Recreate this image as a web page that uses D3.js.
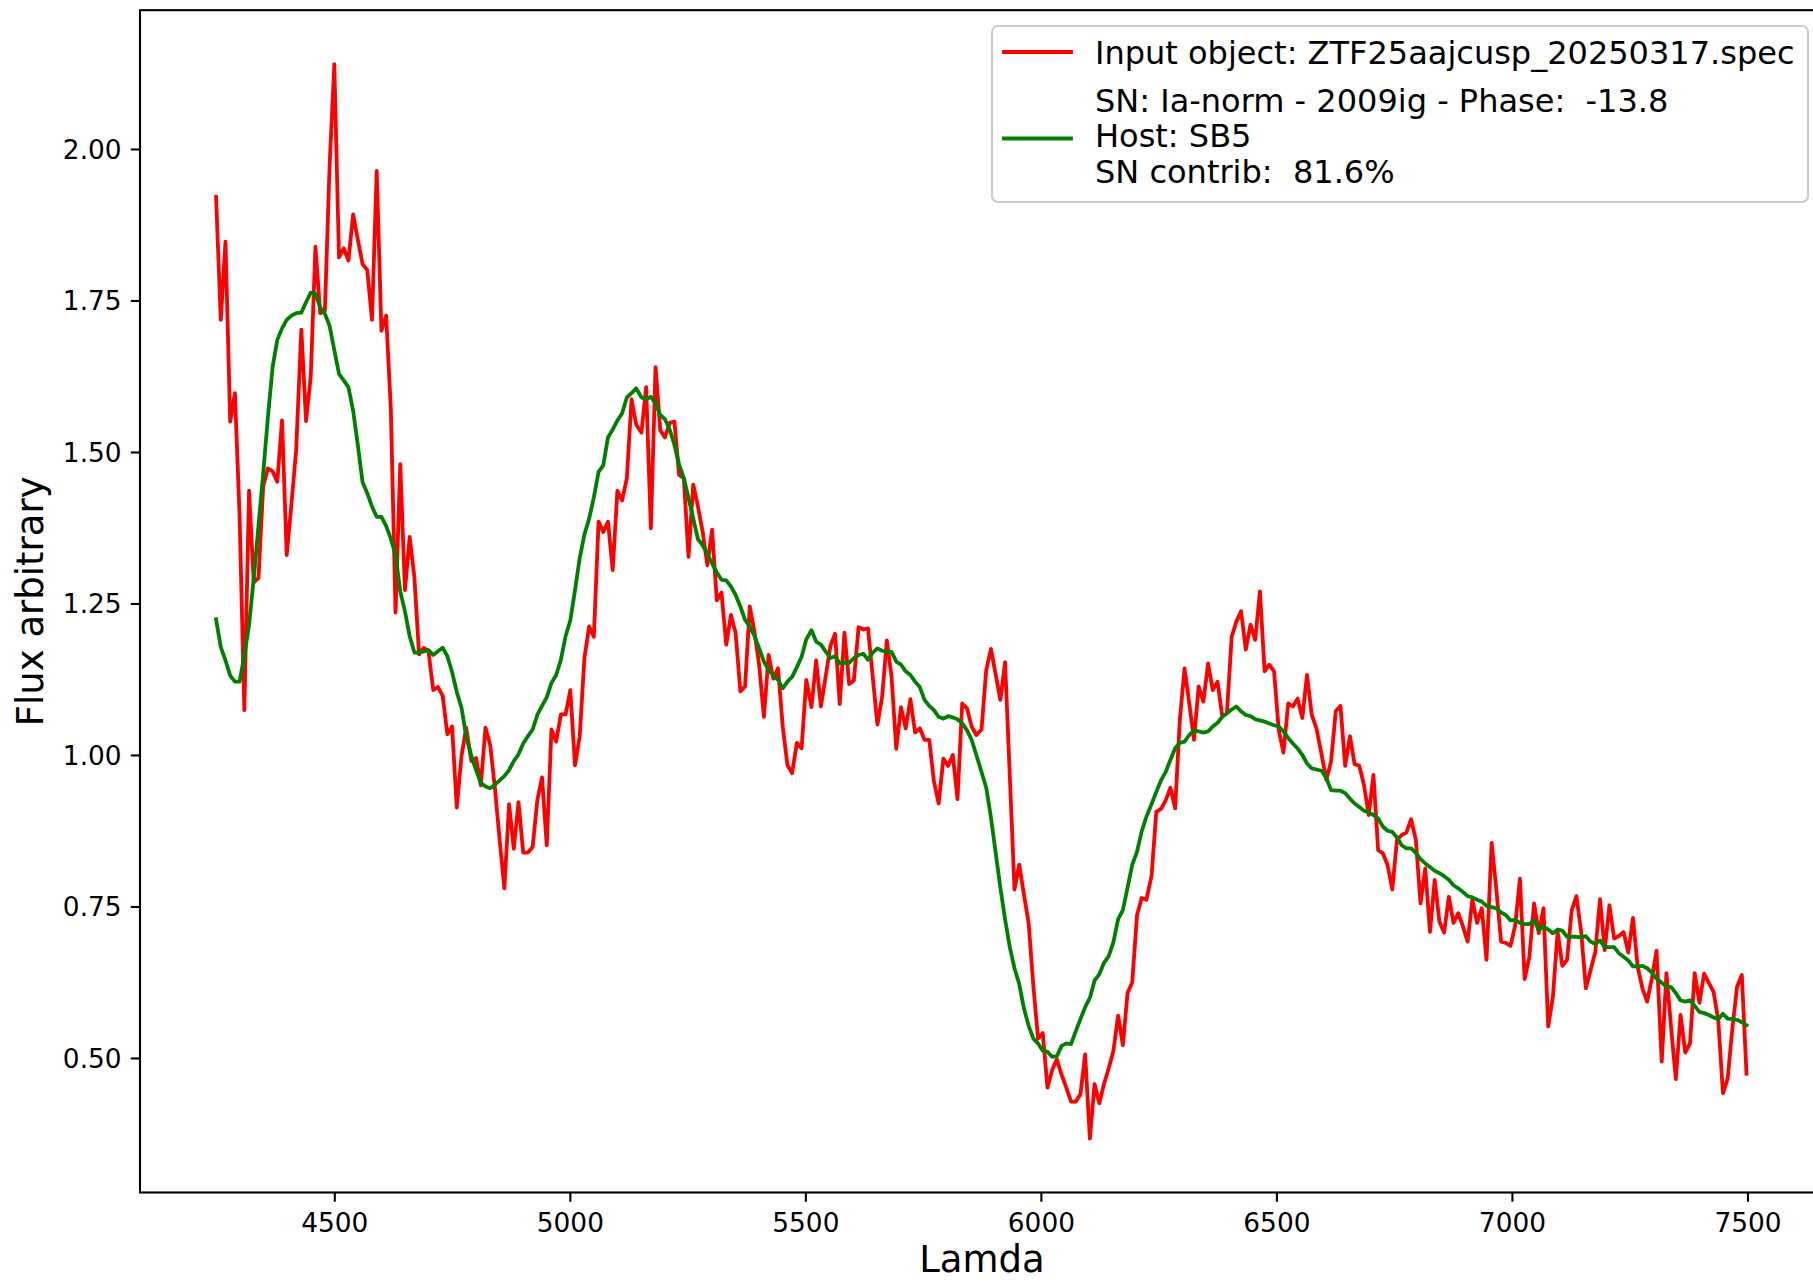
<!DOCTYPE html>
<html>
<head>
<meta charset="utf-8">
<script src="https://cdn.jsdelivr.net/npm/d3@7"></script>
<style>
  html, body { margin: 0; padding: 0; background: #ffffff; }
  svg { display: block; }
  text { font-family: "DejaVu Sans", sans-serif; fill: #000; }
</style>
</head>
<body>
<svg id="chart" width="1813" height="1282"></svg>
<script>
// ---------------- data ----------------
const wavelength = [
  4249,4259,4269,4279,4289,4299,4309,4319,4329,4339,4349,4359,4369,4379,4389,4399,4409,4419,
  4430,4440,4450,4460,4470,4480,4490,4500,4510,4520,4530,4540,4550,4560,4570,4580,4590,4600,4610,4620,4630,4640,4650,4660,4670,4680,4690,4700,4710,4720,4730,4740,4750,4760,4770,4780,
  4791,4801,4811,4821,4831,4841,4851,4861,4871,4881,4891,4901,4911,4921,4931,4941,4951,4961,4971,4981,4991,5001,5011,5021,5031,5041,5051,5061,5071,5081,5091,5101,5111,5121,5131,5141,
  5152,5162,5172,5182,5192,5202,5212,5222,5232,5242,5252,5262,5272,5282,5292,5302,5312,5322,5332,5342,5352,5362,5372,5382,5392,5402,5412,5422,5432,5442,5452,5462,5472,5482,5492,5502,
  5513,5523,5533,5543,5553,5563,5573,5583,5593,5603,5613,5623,5633,5643,5653,5663,5673,5683,5693,5703,5713,5723,5733,5743,5753,5763,5773,5783,5793,5803,5813,5823,5833,5843,5853,5863,
  5874,5884,5894,5904,5914,5924,5934,5944,5954,5964,5974,5984,5994,6004,6014,6024,6034,6044,6054,6064,6074,6084,6094,6104,6114,6124,6134,6144,6154,6164,6174,6184,6194,6204,6214,6224,
  6235,6245,6255,6265,6275,6285,6295,6305,6315,6325,6335,6345,6355,6365,6375,6385,6395,6405,6415,6425,6435,6445,6455,6465,6475,6485,6495,6505,6515,6525,6535,6545,6555,6565,6575,6585,
  6596,6606,6616,6626,6636,6646,6656,6666,6676,6686,6696,6706,6716,6726,6736,6746,6756,6766,6776,6786,6796,6806,6816,6826,6836,6846,6856,6866,6876,6886,6896,6906,6916,6926,6936,6946,
  6957,6967,6977,6987,6997,7007,7017,7027,7037,7047,7057,7067,7077,7087,7097,7107,7117,7127,7137,7147,7157,7167,7177,7187,7197,7207,7217,7227,7237,7247,7257,7267,7277,7287,7297,7307,
  7318,7328,7338,7348,7358,7368,7378,7388,7398,7408,7418,7428,7438,7448,7458,7468,7478,7488,7498
];

const fluxInput = [
  1.921,1.718,1.847,1.55,1.597,1.393,1.074,1.436,1.285,1.292,
  1.443,1.473,1.468,1.451,1.552,1.33,1.414,1.503,1.702,1.551,
  1.625,1.839,1.729,1.733,1.972,2.14,1.821,1.836,1.816,1.892,
  1.85,1.81,1.80,1.718,1.964,1.70,1.725,1.572,1.235,1.48,
  1.272,1.36,1.293,1.166,1.177,1.171,1.107,1.112,1.098,1.034,
  1.047,0.913,0.998,1.045,0.99,0.995,0.95,1.045,1.016,0.945,
  0.86,0.78,0.919,0.845,0.922,0.839,0.839,0.848,0.925,0.963,
  0.851,1.042,1.022,1.067,1.067,1.107,0.983,1.031,1.16,1.212,
  1.195,1.385,1.368,1.385,1.305,1.436,1.42,1.456,1.587,1.545,
  1.532,1.607,1.374,1.64,1.536,1.524,1.548,1.55,1.462,1.457,
  1.327,1.446,1.41,1.368,1.313,1.372,1.255,1.268,1.182,1.231,
  1.201,1.105,1.113,1.245,1.203,1.148,1.063,1.165,1.126,1.143,
  1.047,0.983,0.97,1.02,1.011,1.124,1.079,1.156,1.08,1.129,
  1.179,1.2,1.084,1.202,1.117,1.123,1.211,1.207,1.209,1.129,
  1.05,1.096,1.189,1.129,1.01,1.079,1.044,1.092,1.037,1.044,
  1.025,1.025,0.956,0.92,0.994,0.982,1.0,0.927,1.085,1.077,
  1.047,1.033,1.042,1.14,1.175,1.133,1.091,1.153,0.966,0.778,
  0.819,0.77,0.723,0.619,0.532,0.541,0.451,0.48,0.498,0.472,
  0.451,0.428,0.428,0.44,0.506,0.367,0.457,0.425,0.457,0.483,
  0.512,0.57,0.521,0.607,0.625,0.735,0.764,0.761,0.801,0.906,
  0.911,0.925,0.946,0.912,1.058,1.143,1.085,1.025,1.113,1.088,
  1.151,1.107,1.121,1.064,1.069,1.195,1.22,1.237,1.174,1.215,
  1.19,1.27,1.138,1.149,1.138,1.041,1.004,1.085,1.08,1.093,
  1.061,1.132,1.066,1.044,1.0,0.959,0.989,1.072,1.081,0.982,
  1.031,0.985,0.982,0.95,0.901,0.967,0.843,0.838,0.818,0.778,
  0.86,0.868,0.872,0.894,0.86,0.755,0.813,0.708,0.794,0.725,
  0.707,0.766,0.723,0.739,0.717,0.692,0.761,0.723,0.747,0.662,
  0.855,0.777,0.692,0.69,0.685,0.719,0.796,0.63,0.667,0.755,
  0.706,0.747,0.552,0.601,0.708,0.652,0.662,0.744,0.767,0.708,
  0.615,0.645,0.675,0.762,0.678,0.752,0.697,0.701,0.708,0.674,
  0.731,0.65,0.615,0.593,0.631,0.677,0.494,0.64,0.549,0.465,
  0.571,0.509,0.524,0.64,0.591,0.639,0.624,0.609,0.563,0.442,
  0.466,0.549,0.618,0.637,0.474
];

const fluxTemplate = [
  1.224,1.178,1.156,1.131,1.121,1.121,1.164,1.214,1.292,1.378,
  1.464,1.557,1.64,1.685,1.704,1.718,1.725,1.729,1.73,1.747,
  1.763,1.761,1.738,1.728,1.708,1.668,1.629,1.618,1.607,1.568,
  1.511,1.45,1.432,1.41,1.393,1.393,1.378,1.357,1.33,1.27,
  1.237,1.196,1.169,1.169,1.171,1.173,1.165,1.171,1.177,1.163,
  1.137,1.104,1.078,1.031,0.998,0.975,0.954,0.948,0.945,0.951,
  0.958,0.965,0.975,0.99,1.001,1.019,1.031,1.042,1.066,1.081,
  1.095,1.119,1.132,1.157,1.196,1.222,1.272,1.325,1.364,1.39,
  1.425,1.467,1.478,1.524,1.537,1.552,1.564,1.59,1.597,1.605,
  1.59,1.587,1.591,1.58,1.561,1.554,1.537,1.512,1.479,1.457,
  1.424,1.39,1.356,1.346,1.332,1.316,1.301,1.289,1.288,1.278,
  1.264,1.245,1.223,1.212,1.196,1.176,1.154,1.14,1.132,1.124,
  1.11,1.121,1.129,1.145,1.162,1.191,1.206,1.187,1.182,1.171,
  1.16,1.163,1.151,1.152,1.152,1.16,1.165,1.167,1.157,1.169,
  1.176,1.172,1.17,1.17,1.154,1.149,1.138,1.132,1.121,1.112,
  1.091,1.081,1.074,1.063,1.06,1.064,1.062,1.059,1.052,1.041,
  1.025,1.0,0.972,0.946,0.897,0.839,0.781,0.729,0.683,0.648,
  0.622,0.582,0.553,0.532,0.524,0.512,0.51,0.502,0.503,0.52,
  0.524,0.523,0.544,0.564,0.584,0.599,0.628,0.638,0.657,0.668,
  0.691,0.729,0.744,0.781,0.819,0.84,0.874,0.898,0.919,0.939,
  0.958,0.972,0.992,1.011,1.02,1.022,1.033,1.04,1.039,1.037,
  1.039,1.047,1.053,1.063,1.069,1.075,1.08,1.072,1.066,1.064,
  1.059,1.057,1.055,1.052,1.049,1.047,1.039,1.028,1.019,1.011,
  1.0,0.986,0.978,0.976,0.974,0.962,0.942,0.941,0.941,0.937,
  0.928,0.92,0.914,0.908,0.905,0.901,0.895,0.882,0.875,0.873,
  0.864,0.851,0.846,0.846,0.838,0.828,0.821,0.815,0.809,0.805,
  0.8,0.794,0.785,0.78,0.774,0.767,0.765,0.761,0.758,0.751,
  0.749,0.747,0.74,0.736,0.727,0.728,0.723,0.721,0.721,0.727,
  0.711,0.717,0.712,0.706,0.712,0.71,0.7,0.7,0.7,0.699,
  0.701,0.692,0.688,0.694,0.683,0.683,0.683,0.673,0.667,0.661,
  0.651,0.651,0.652,0.648,0.641,0.631,0.624,0.618,0.617,0.607,
  0.595,0.593,0.595,0.586,0.576,0.574,0.571,0.567,0.564,0.573,
  0.565,0.564,0.563,0.559,0.554
];

const xTickValues = [4500, 5000, 5500, 6000, 6500, 7000, 7500];
const yTickValues = [0.50, 0.75, 1.00, 1.25, 1.50, 1.75, 2.00];
const xDomain = [4087.5, 7662.5];
const yDomain = [0.278, 2.229];

const xLabel = "Lamda";
const yLabel = "Flux arbitrary";
const inputLabel = ["Input object: ZTF25aajcusp_20250317.spec"];
const templateLabel = ["SN: Ia-norm - 2009ig - Phase:  -13.8", "Host: SB5", "SN contrib:  81.6%"];

// ---------------- layout ----------------
const plot = { left: 140, top: 10.2, right: 1824, bottom: 1192.5 };
const tickFont = 26.4, labelFont = 37, legendFont = 32;
const spineW = 2.1, tickLen = 9.2, tickPad = 9.2, lineW = 3.8;

const svg = d3.select("#chart");

const x = d3.scaleLinear().domain(xDomain).range([plot.left, plot.right]);
const y = d3.scaleLinear().domain(yDomain).range([plot.bottom, plot.top]);

svg.append("defs").append("clipPath").attr("id", "clip")
  .append("rect")
  .attr("x", plot.left).attr("y", plot.top)
  .attr("width", plot.right - plot.left).attr("height", plot.bottom - plot.top);

// data lines
const inputPts = wavelength.map((w, i) => [w, fluxInput[i]]);
const templatePts = wavelength.map((w, i) => [w, fluxTemplate[i]]);
const line = d3.line().x(d => x(d[0])).y(d => y(d[1]));

const g = svg.append("g").attr("clip-path", "url(#clip)");
g.append("path").datum(inputPts)
  .attr("d", line).attr("fill", "none")
  .attr("stroke", "#ff0000").attr("stroke-width", lineW)
  .attr("stroke-linejoin", "round").attr("stroke-linecap", "square");
g.append("path").datum(templatePts)
  .attr("d", line).attr("fill", "none")
  .attr("stroke", "#008000").attr("stroke-width", lineW)
  .attr("stroke-linejoin", "round").attr("stroke-linecap", "square");

// axes
const xAxis = d3.axisBottom(x).tickValues(xTickValues).tickFormat(d3.format("d"))
  .tickSize(tickLen).tickPadding(tickPad).tickSizeOuter(0);
const yAxis = d3.axisLeft(y).tickValues(yTickValues).tickFormat(d3.format(".2f"))
  .tickSize(tickLen).tickPadding(tickPad).tickSizeOuter(0);

const gx = svg.append("g").attr("transform", `translate(0,${plot.bottom})`).call(xAxis);
const gy = svg.append("g").attr("transform", `translate(${plot.left},0)`).call(yAxis);
[gx, gy].forEach(a => {
  a.select(".domain").remove();
  a.selectAll(".tick line").attr("stroke", "#000").attr("stroke-width", spineW);
  a.selectAll(".tick text").attr("font-family", "DejaVu Sans").attr("font-size", tickFont).attr("fill", "#000");
});
gx.selectAll(".tick text").attr("dy", null).attr("y", 1232 - plot.bottom);
gy.selectAll(".tick text").attr("dy", "0.36em");

// frame
svg.append("rect")
  .attr("x", plot.left).attr("y", plot.top)
  .attr("width", plot.right - plot.left).attr("height", plot.bottom - plot.top)
  .attr("fill", "none").attr("stroke", "#000").attr("stroke-width", spineW)
  .attr("stroke-linejoin", "miter");

// axis labels
svg.append("text").attr("x", (plot.left + plot.right) / 2).attr("y", 1272)
  .attr("text-anchor", "middle").attr("font-size", labelFont).text(xLabel);
svg.append("text")
  .attr("transform", `translate(43,${(plot.top + plot.bottom) / 2}) rotate(-90)`)
  .attr("text-anchor", "middle").attr("font-size", labelFont).text(yLabel);

// legend
const leg = svg.append("g");
leg.append("rect").attr("x", 992).attr("y", 26).attr("width", 816).attr("height", 176)
  .attr("rx", 6).attr("ry", 6)
  .attr("fill", "#ffffff").attr("fill-opacity", 0.8)
  .attr("stroke", "#cccccc").attr("stroke-width", spineW);

const legendEntries = [
  { color: "#ff0000", handleY: 52, lines: inputLabel, baselines: [64] },
  { color: "#008000", handleY: 138.5, lines: templateLabel, baselines: [112, 147, 182.5] }
];
legendEntries.forEach(e => {
  leg.append("line").attr("x1", 1004).attr("x2", 1071)
    .attr("y1", e.handleY).attr("y2", e.handleY)
    .attr("stroke", e.color).attr("stroke-width", lineW).attr("stroke-linecap", "square");
  e.lines.forEach((t, i) => {
    leg.append("text").attr("x", 1095).attr("y", e.baselines[i])
      .attr("font-size", legendFont).attr("xml:space", "preserve")
      .style("white-space", "pre").text(t);
  });
});
</script>
</body>
</html>
